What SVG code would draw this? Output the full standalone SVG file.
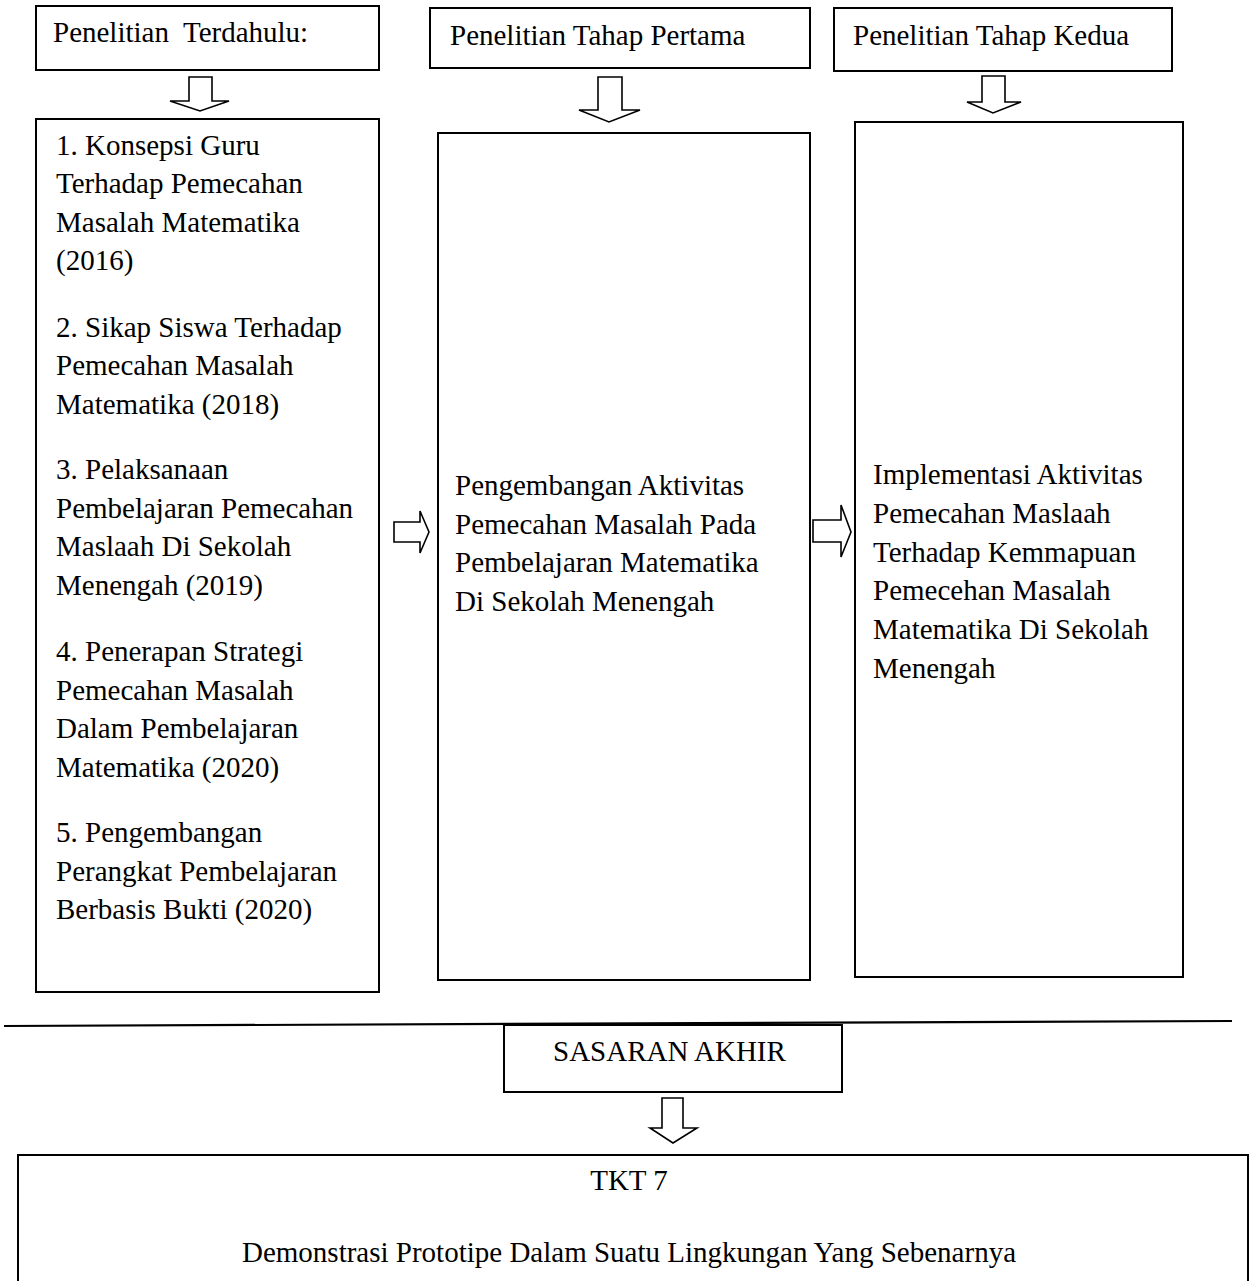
<svg xmlns="http://www.w3.org/2000/svg" width="1250" height="1281" viewBox="0 0 1250 1281">
<style>
.box{fill:#fff;stroke:#000;stroke-width:2}
.arr{fill:#fff;stroke:#000;stroke-width:1.6;stroke-linejoin:miter}
text{font-family:"Liberation Serif","Times New Roman",serif;font-size:29px;fill:#000;white-space:pre}
.c{text-anchor:middle}
</style>
<rect width="1250" height="1281" fill="#fff"/>
<g id="head1"><rect class="box" x="36" y="6" width="343" height="64"/><text x="53" y="42" xml:space="preserve">Penelitian  Terdahulu:</text></g>
<g id="head2"><rect class="box" x="430" y="8" width="380" height="60"/><text x="450" y="45">Penelitian Tahap Pertama</text></g>
<g id="head3"><rect class="box" x="834" y="8" width="338" height="63"/><text x="853" y="45">Penelitian Tahap Kedua</text></g>
<g id="prior"><rect class="box" x="36" y="119" width="343" height="873"/>
<text x="56" y="155">1. Konsepsi Guru</text>
<text x="56" y="193">Terhadap Pemecahan</text>
<text x="56" y="232">Masalah Matematika</text>
<text x="56" y="270">(2016)</text>
<text x="56" y="337">2. Sikap Siswa Terhadap</text>
<text x="56" y="375">Pemecahan Masalah</text>
<text x="56" y="414">Matematika (2018)</text>
<text x="56" y="479">3. Pelaksanaan</text>
<text x="56" y="518">Pembelajaran Pemecahan</text>
<text x="56" y="556">Maslaah Di Sekolah</text>
<text x="56" y="595">Menengah (2019)</text>
<text x="56" y="661">4. Penerapan Strategi</text>
<text x="56" y="700">Pemecahan Masalah</text>
<text x="56" y="738">Dalam Pembelajaran</text>
<text x="56" y="777">Matematika (2020)</text>
<text x="56" y="842">5. Pengembangan</text>
<text x="56" y="881">Perangkat Pembelajaran</text>
<text x="56" y="919">Berbasis Bukti (2020)</text>
</g>
<g id="stage1"><rect class="box" x="438" y="133" width="372" height="847"/>
<text x="455" y="495">Pengembangan Aktivitas</text>
<text x="455" y="534">Pemecahan Masalah Pada</text>
<text x="455" y="572">Pembelajaran Matematika</text>
<text x="455" y="611">Di Sekolah Menengah</text>
</g>
<g id="stage2"><rect class="box" x="855" y="122" width="328" height="855"/>
<text x="873" y="484">Implementasi Aktivitas</text>
<text x="873" y="523">Pemecahan Maslaah</text>
<text x="873" y="562">Terhadap Kemmapuan</text>
<text x="873" y="600">Pemecehan Masalah</text>
<text x="873" y="639">Matematika Di Sekolah</text>
<text x="873" y="678">Menengah</text>
</g>
<g id="target"><rect class="box" x="504" y="1025" width="338" height="67"/><text x="553" y="1061">SASARAN AKHIR</text></g>
<g id="tkt"><rect class="box" x="18" y="1155" width="1230" height="140"/>
<text class="c" x="629" y="1190">TKT 7</text>
<text class="c" x="629" y="1262">Demonstrasi Prototipe Dalam Suatu Lingkungan Yang Sebenarnya</text>
</g>
<g id="connectors">
<line x1="4" y1="1026" x2="1232" y2="1021" stroke="#000" stroke-width="2.2"/>
<path class="arr" d="M189,77 H212 V101 H229 L200,111 L170,101 H189 Z"/>
<path class="arr" d="M598,77 H622 V110 H640 L609,122 L579,110 H598 Z"/>
<path class="arr" d="M982,76 H1005 V102 H1021 L993,113 L967,102 H982 Z"/>
<path class="arr" d="M394,522 H420 V511 L429,532 L420,553 V542 H394 Z"/>
<path class="arr" d="M813,520 H841 V505 L851,532 L841,557 V542 H813 Z"/>
<path class="arr" d="M662,1098 H683 V1128 H697 L673,1143 L650,1128 H662 Z"/>
</g>
</svg>
